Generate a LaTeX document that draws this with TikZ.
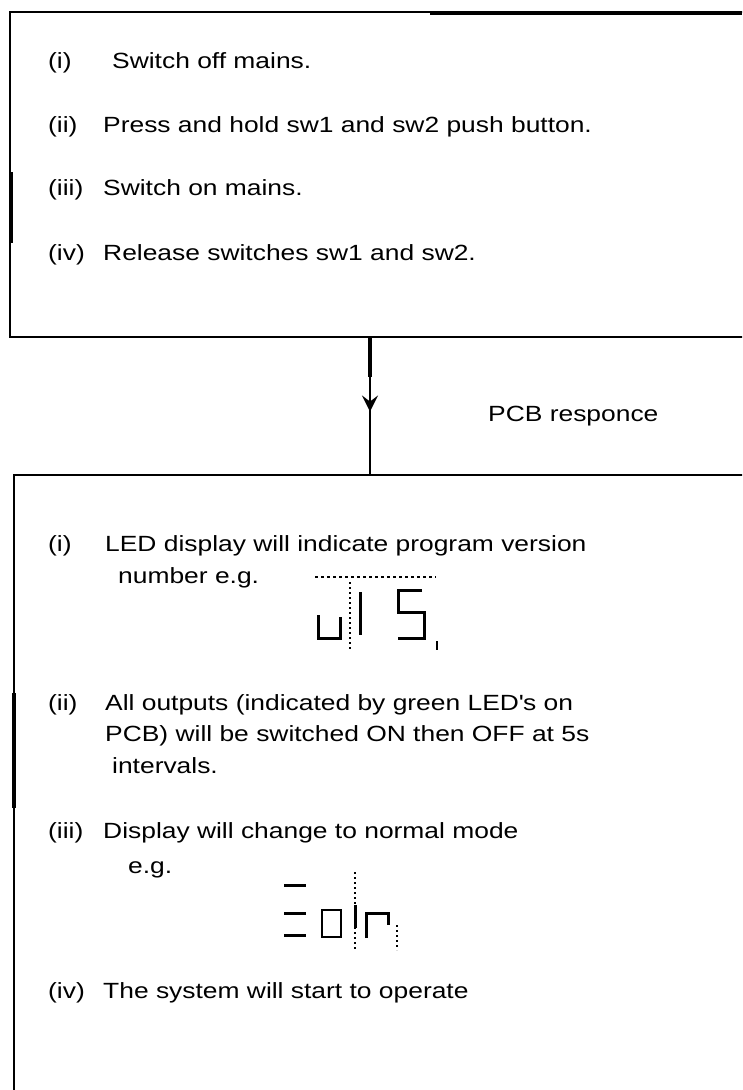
\documentclass[tikz,border=0pt]{standalone}
\usepackage{fontspec}
\setmainfont{Liberation Sans}[FakeStretch=1.2]
\usetikzlibrary{arrows.meta,decorations.markings}
\begin{document}
\begin{tikzpicture}[x=1pt,y=-1pt,
  frame/.style={draw, line width=1.6pt, inner sep=0pt, outer sep=0pt, anchor=north west},
  txt/.style={anchor=base west, inner sep=0pt, font=\fontsize{22}{26}\selectfont},
  scanbar/.style={line width=4pt},
  seg/.style={line width=3pt},
  segdots/.style={line width=1.2pt, dash pattern=on 2pt off 3pt},
  conn/.style={line width=1.6pt, postaction={decorate},
    decoration={markings, mark=at position 0.54 with {\arrow{Stealth[length=16pt,width=16pt,inset=6pt]}}}}]
\useasboundingbox (0,0) rectangle (742,1090);
\clip (0,0) rectangle (742,1090);

% boxes (open to the right / bottom, beyond the picture)
\node[frame, minimum width=760pt, minimum height=325pt] (box1) at (10,12) {};
\node[frame, minimum width=760pt, minimum height=700pt] (box2) at (14,475) {};

% heavy parts of the frame lines
\draw[scanbar] (430,13) -- (742,13);
\draw[scanbar] (11,172) -- (11,243);
\draw[scanbar] (14,693) -- (14,808);

% connector
\coordinate (ax) at (370,0);
\draw[conn] (box1.south -| ax) -- (box2.north -| ax);
\draw[scanbar] (box1.south -| ax) -- ++(0,40);
\node[txt] (pcb) at (488,421) {PCB responce};

% top box text
\node[txt] (t1l) at (48,68)  {(i)};
\node[txt] (t1)  at (112,68) {Switch off mains.};
\node[txt] (t2l) at (48,132) {(ii)};
\node[txt] (t2)  at (103,132) {Press and hold sw1 and sw2 push button.};
\node[txt] (t3l) at (48,195) {(iii)};
\node[txt] (t3)  at (103,195) {Switch on mains.};
\node[txt] (t4l) at (48,260) {(iv)};
\node[txt] (t4)  at (103,260) {Release switches sw1 and sw2.};

% lower box text
\node[txt] (b1l) at (48,551)  {(i)};
\node[txt] (b1)  at (105,551) {LED display will indicate program version};
\node[txt] (b1b) at (118,583) {number e.g.};
\node[txt] (b2l) at (48,710)  {(ii)};
\node[txt] (b2)  at (105,710) {All outputs (indicated by green LED\textquotesingle s on};
\node[txt] (b2b) at (105,741) {PCB) will be switched ON then OFF at 5s};
\node[txt] (b2c) at (112,773) {intervals.};
\node[txt] (b3l) at (48,838)  {(iii)};
\node[txt] (b3)  at (103,838) {Display will change to normal mode};
\node[txt] (b3b) at (128,873) {e.g.};
\node[txt] (b4l) at (48,998)  {(iv)};
\node[txt] (b4)  at (103,998) {The system will start to operate};

% display 1
\draw[line width=1.2pt, dashed] (315,577) -- (436,577);
\draw[seg] (318,615) -- (318,638) -- (340,638) -- (340,617);
\draw[segdots] (350,582) -- (350,650);
\draw[seg] (360,592) -- (360,635);
\draw[seg] (422,590) -- (398,590) -- (398,612) -- (424,612) -- (424,638) -- (398,638);
\draw[line width=1.5pt] (437,641) -- (437,650);

% display 2
\draw[seg] (284,885) -- (306,885);
\draw[seg] (284,913) -- (306,913);
\draw[seg] (284,935) -- (306,935);
\draw[line width=2.5pt] (322,910) rectangle (341,937);
\draw[segdots] (355,872) -- (355,950);
\draw[seg] (355,905) -- (355,928);
\draw[seg] (366,938) -- (366,913) -- (388,913) -- (388,925);
\draw[segdots] (397,925) -- (397,950);
\end{tikzpicture}
\end{document}
